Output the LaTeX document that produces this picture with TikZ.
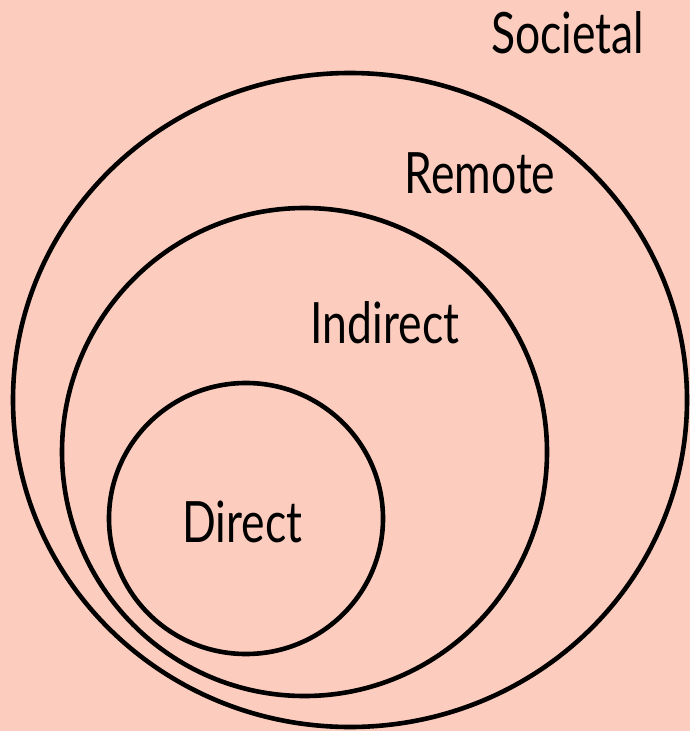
\documentclass[tikz,border=0pt]{standalone}
\usepackage{fontspec}
\setmainfont{Lato}
\definecolor{bgpeach}{RGB}{252,205,190}
\tikzset{
  ring/.style={draw=black, line width=4.6pt},
  lbl/.style={anchor=base, inner sep=0pt, font=\fontsize{57}{64}\selectfont}
}
\newcommand{\narrowtext}[1]{\scalebox{0.78}[1]{#1}}
\begin{document}
\begin{tikzpicture}[x=1pt, y=-1pt]
  % page and background
  \fill[bgpeach] (0,0) rectangle (690,731);
  \useasboundingbox (0,0) rectangle (690,731);
  % nested rings
  \draw[ring] (350,400) ellipse [x radius=337, y radius=327];
  \draw[ring] (304.5,452) ellipse [x radius=242.5, y radius=244];
  \draw[ring] (246,518.5) ellipse [x radius=137, y radius=135.5];
  % labels
  \node[lbl] (societal) at (567.5,53) {\narrowtext{Societal}};
  \node[lbl] (remote) at (480,193) {\narrowtext{Remote}};
  \node[lbl] (indirect) at (385,343) {\narrowtext{Indirect}};
  \node[lbl] (direct) at (242.5,542) {\narrowtext{Direct}};
\end{tikzpicture}
\end{document}
